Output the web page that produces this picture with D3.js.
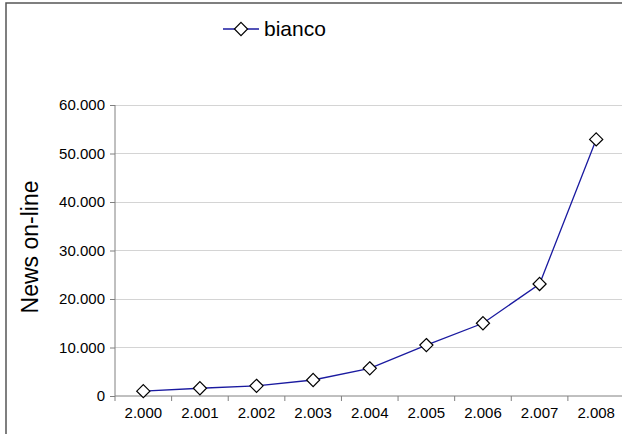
<!DOCTYPE html>
<html><head><meta charset="utf-8">
<script src="https://cdn.jsdelivr.net/npm/d3@7"></script>
<style>html,body{margin:0;padding:0;background:#fff;overflow:hidden}svg{display:block;font-family:"Liberation Sans",Arial,sans-serif}</style>
</head><body>
<script>
const categories = ["2.000","2.001","2.002","2.003","2.004","2.005","2.006","2.007","2.008"];
const seriesName = "bianco";
const values = [1000, 1600, 2100, 3300, 5700, 10500, 15000, 23100, 52900];
const yTicks = [0, 10000, 20000, 30000, 40000, 50000, 60000];
const yTickLabels = ["0","10.000","20.000","30.000","40.000","50.000","60.000"];
const yTitle = "News on-line";

(function () {
const W = 622, H = 434;
const FONT = "'Liberation Sans', Arial, sans-serif";
const svg = d3.select("body").append("svg").attr("width", W).attr("height", H);

// outer chart border: only left and top edges fall inside the picture
svg.append("path").attr("d", `M6,${H + 5}V3H${W + 5}`)
  .attr("fill", "none").attr("stroke", "#555").attr("stroke-width", 1.5);

const pLeft = 115, pRight = 624.5, pTop = 105, pBottom = 396;
const x = d3.scaleBand().domain(categories).range([pLeft, pRight]).padding(0);
const y = d3.scaleLinear().domain([0, 60000]).range([pBottom, pTop]);

// gridlines
svg.append("g").selectAll("line").data(yTicks.slice(1)).join("line")
  .attr("x1", pLeft).attr("x2", pRight).attr("y1", d => y(d)).attr("y2", d => y(d))
  .attr("stroke", "#d4d4d4").attr("stroke-width", 1).attr("shape-rendering", "crispEdges");

// y axis
const yAxis = d3.axisLeft(y).tickValues(yTicks).tickFormat((d, i) => yTickLabels[i]).tickSize(5).tickPadding(5);
const gy = svg.append("g").attr("transform", `translate(${pLeft},0)`).call(yAxis);
gy.select(".domain").attr("stroke", "#808080").attr("d", `M0,${pTop}V${pBottom}`);
gy.selectAll(".tick line").attr("stroke", "#808080");
gy.selectAll("text").attr("font-size", 15).attr("fill", "#000").attr("font-family", FONT);

// x axis
const xAxis = d3.axisBottom(x).tickSize(0).tickPadding(11);
const gx = svg.append("g").attr("transform", `translate(0,${pBottom})`).call(xAxis);
gx.select(".domain").attr("stroke", "#808080").attr("d", `M${pLeft},0H${pRight}`);
gx.selectAll("text").attr("font-size", 15).attr("fill", "#000").attr("font-family", FONT);
// category boundary tick marks
svg.append("g").selectAll("line").data(categories).join("line")
  .attr("x1", d => x(d)).attr("x2", d => x(d)).attr("y1", pBottom).attr("y2", pBottom + 5)
  .attr("stroke", "#808080");

// y title
svg.append("text").attr("transform", `translate(38,247) rotate(-90)`)
  .attr("text-anchor", "middle").attr("font-size", 23).attr("fill", "#000")
  .attr("font-family", FONT).text(yTitle);

// line
const cx = d => x(d) + x.bandwidth() / 2;
const line = d3.line().x((d, i) => cx(categories[i])).y(d => y(d));
svg.append("path").datum(values).attr("d", line).attr("fill", "none")
  .attr("stroke", "#1a1aa0").attr("stroke-width", 1.3);

const diamond = d3.symbol().type(d3.symbolDiamond2).size(110);
svg.append("g").selectAll("path").data(values).join("path")
  .attr("transform", (d, i) => `translate(${cx(categories[i])},${y(d)})`)
  .attr("d", diamond).attr("fill", "#fff").attr("stroke", "#000").attr("stroke-width", 1.2);

// legend
const lg = svg.append("g");
lg.append("line").attr("x1", 223).attr("x2", 259).attr("y1", 29).attr("y2", 29)
  .attr("stroke", "#1a1aa0").attr("stroke-width", 1.3);
lg.append("path").attr("transform", "translate(241,29)").attr("d", diamond)
  .attr("fill", "#fff").attr("stroke", "#000").attr("stroke-width", 1.2);
lg.append("text").attr("x", 264).attr("y", 36).attr("font-size", 21).attr("fill", "#000")
  .attr("font-family", FONT).text(seriesName);
})();
</script>
</body></html>
